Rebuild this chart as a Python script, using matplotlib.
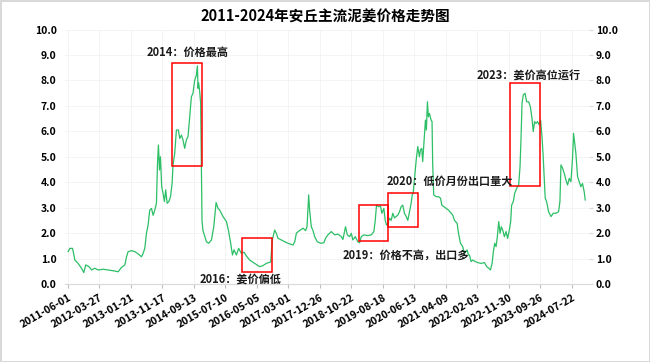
import numpy as np
import pandas as pd
import matplotlib
matplotlib.use("Agg")
import matplotlib.pyplot as plt
import matplotlib.dates as mdates
from matplotlib.patches import Rectangle

plt.rcParams['font.family'] = ['Noto Sans CJK SC', 'DejaVu Sans']

# ---------------------------------------------------------------- data
dates = [
    "2011-06-03", "2011-06-19", "2011-07-15", "2011-08-06", "2011-09-06", "2011-10-08", "2011-10-30",
    "2011-11-18", "2011-12-19",
    "2012-01-12", "2012-02-12", "2012-03-15", "2012-05-02", "2012-06-18", "2012-08-05", "2012-09-21",
    "2012-10-23", "2012-11-24", "2012-12-10", "2012-12-25",
    "2013-01-28", "2013-02-28", "2013-03-31", "2013-05-02", "2013-05-17", "2013-06-02", "2013-06-18",
    "2013-07-03", "2013-07-19", "2013-08-05", "2013-08-20", "2013-09-05", "2013-09-21", "2013-10-01",
    "2013-10-10", "2013-10-20", "2013-10-29", "2013-11-10", "2013-11-23", "2013-12-06", "2013-12-18",
    "2014-01-01", "2014-01-17", "2014-02-02", "2014-02-17", "2014-02-26", "2014-03-14", "2014-03-30",
    "2014-04-18", "2014-05-01", "2014-05-17", "2014-06-01", "2014-06-17", "2014-07-03", "2014-07-19",
    "2014-08-04", "2014-08-20", "2014-09-04", "2014-09-20", "2014-10-06", "2014-10-16", "2014-10-22",
    "2014-10-28", "2014-11-07", "2014-11-16", "2014-11-29", "2014-12-08",
    "2015-01-10", "2015-02-01", "2015-02-27", "2015-03-21", "2015-04-12", "2015-05-01", "2015-05-17",
    "2015-06-17", "2015-07-20", "2015-08-10", "2015-08-29", "2015-09-15", "2015-09-30", "2015-10-23",
    "2015-11-13", "2015-12-09",
    "2016-01-03", "2016-01-26", "2016-02-26", "2016-04-14", "2016-05-31", "2016-07-01", "2016-08-03",
    "2016-09-13", "2016-09-29", "2016-10-21", "2016-11-06", "2016-11-21", "2016-12-23",
    "2017-01-25", "2017-02-25", "2017-04-14", "2017-04-30", "2017-05-16", "2017-06-16", "2017-07-18",
    "2017-08-12", "2017-08-25", "2017-09-10", "2017-09-19", "2017-10-05", "2017-10-21", "2017-11-06",
    "2017-12-01",
    "2018-01-02", "2018-02-02", "2018-02-18", "2018-03-12", "2018-04-14", "2018-05-15", "2018-06-15",
    "2018-07-18", "2018-08-02", "2018-08-27", "2018-09-13", "2018-10-05", "2018-10-21", "2018-11-05",
    "2018-11-28", "2018-12-22",
    "2019-01-08", "2019-01-24", "2019-02-18", "2019-03-28", "2019-04-29", "2019-05-24", "2019-06-06",
    "2019-06-18", "2019-07-07", "2019-07-26", "2019-08-08", "2019-08-27", "2019-09-09", "2019-09-21",
    "2019-10-04", "2019-10-20", "2019-11-05", "2019-11-20", "2019-12-06", "2019-12-22",
    "2020-01-07", "2020-01-23", "2020-02-08", "2020-02-23", "2020-03-10", "2020-03-27", "2020-04-11",
    "2020-04-27", "2020-05-13", "2020-05-23", "2020-06-01", "2020-06-13", "2020-06-30", "2020-07-15",
    "2020-07-31", "2020-08-09", "2020-08-22", "2020-08-31", "2020-09-16", "2020-09-26", "2020-10-05",
    "2020-10-15", "2020-10-24", "2020-11-03", "2020-11-19", "2020-11-28", "2020-12-04", "2020-12-14",
    "2021-01-07", "2021-01-29", "2021-02-17", "2021-03-01", "2021-03-20", "2021-04-12", "2021-05-04",
    "2021-05-29", "2021-06-13", "2021-06-30", "2021-07-25", "2021-08-07", "2021-08-26", "2021-09-16",
    "2021-10-03", "2021-10-28", "2021-11-10", "2021-11-19", "2021-12-05", "2021-12-20",
    "2022-01-15", "2022-02-06", "2022-03-10", "2022-04-11", "2022-05-03", "2022-05-22", "2022-06-07",
    "2022-06-23", "2022-07-05", "2022-07-18", "2022-07-31", "2022-08-12", "2022-08-25", "2022-09-07",
    "2022-09-19", "2022-10-02", "2022-10-18", "2022-11-03", "2022-11-18", "2022-12-04", "2022-12-17",
    "2022-12-26",
    "2023-01-11", "2023-01-24", "2023-02-12", "2023-03-03", "2023-03-16", "2023-03-26", "2023-04-04",
    "2023-04-16", "2023-05-03", "2023-05-18", "2023-06-06", "2023-06-22", "2023-07-08", "2023-07-20",
    "2023-08-02", "2023-08-15", "2023-08-30", "2023-09-15", "2023-09-28", "2023-10-11", "2023-10-21",
    "2023-11-02", "2023-11-11", "2023-11-24", "2023-12-13",
    "2024-01-05", "2024-01-27", "2024-02-21", "2024-03-17", "2024-03-30", "2024-04-09", "2024-04-24",
    "2024-05-10", "2024-05-26", "2024-06-11", "2024-06-27", "2024-07-13", "2024-07-28", "2024-08-07",
    "2024-08-16", "2024-08-29", "2024-09-14", "2024-09-30", "2024-10-16", "2024-10-31", "2024-11-16",
    "2024-11-26",
]
prices = [
    1.27, 1.40, 1.40, 0.94, 0.81, 0.62, 0.45,
    0.75, 0.68,
    0.55, 0.62, 0.55, 0.58, 0.55, 0.52, 0.48,
    0.65, 0.75, 1.07, 1.27,
    1.31, 1.27, 1.18, 1.07, 1.20, 1.40, 2.00,
    2.30, 2.90, 2.97, 2.70, 2.90, 3.17, 4.74,
    5.46, 4.48, 5.00, 3.82, 3.56, 3.24, 3.70,
    3.17, 3.24, 3.43, 3.95, 4.68, 5.13, 6.05,
    6.05, 5.72, 5.85, 5.66, 5.33, 5.66, 5.80,
    6.57, 7.36, 7.49, 8.00, 8.20, 8.57, 7.69,
    7.90, 7.56, 7.10, 2.50, 2.10,
    1.66, 1.60, 1.73, 2.25, 3.20, 2.97, 2.90,
    2.65, 2.45, 2.06, 1.60, 1.14, 1.34, 1.14,
    1.40, 1.20,
    1.25, 1.10, 0.94, 0.81, 0.68, 0.72, 0.81,
    0.87, 1.73, 2.12, 1.99, 1.80, 1.73,
    1.66, 1.60, 1.53, 1.66, 2.00, 2.10, 2.19,
    2.10, 2.25, 3.50, 2.90, 2.25, 2.10, 1.86,
    1.66,
    1.60, 1.62, 1.80, 1.93, 2.06, 1.93, 1.96,
    1.86, 1.75, 2.25, 1.93, 1.86, 1.99, 1.73,
    1.86, 1.66,
    1.62, 1.86, 1.93, 1.90, 1.93, 2.06, 2.50,
    3.10, 3.04, 3.06, 2.78, 2.97, 2.50, 2.32,
    2.38, 2.58, 2.50, 2.78, 2.60, 2.65,
    2.71, 2.84, 3.04, 3.10, 2.78, 2.65, 2.50,
    2.84, 3.17, 3.50, 3.56, 4.09, 4.87, 5.40,
    5.00, 5.27, 5.33, 4.81, 5.79, 6.44, 6.05,
    7.16, 6.57, 6.70, 6.44, 6.38, 4.74, 3.50,
    3.43, 3.43, 3.37, 3.10, 3.04, 2.97, 2.90,
    2.78, 2.71, 2.50, 2.38, 1.99, 1.60, 1.47,
    1.20, 1.34, 1.14, 1.14, 0.88, 0.94,
    0.88, 0.84, 0.81, 0.84, 0.68, 0.62, 0.55,
    0.81, 1.27, 1.60, 1.47, 1.86, 2.45, 1.99,
    2.25, 2.12, 1.86, 2.06, 1.79, 2.12, 2.45,
    3.10,
    3.24, 3.56, 3.76, 3.89, 4.61, 5.79, 7.10,
    7.43, 7.49, 7.16, 7.16, 6.97, 6.51, 5.99,
    6.38, 6.31, 6.38, 6.25, 6.44, 5.79, 5.13,
    4.09, 3.37, 3.24, 2.84,
    2.65, 2.78, 2.78, 2.84, 3.24, 4.68, 4.55,
    4.35, 4.09, 3.89, 4.15, 4.02, 4.94, 5.92,
    5.59, 5.13, 4.22, 4.02, 3.82, 3.95, 3.63,
    3.30,
]

# highlighted periods: start, end, low, high
box_start = ["2014-02-17", "2015-12-17", "2018-12-29", "2019-10-09", "2022-12-10"]
box_end = ["2014-11-29", "2016-09-29", "2019-10-09", "2020-07-21", "2023-09-21"]
box_low = [4.64, 0.48, 1.70, 2.25, 3.85]
box_high = [8.70, 1.82, 3.10, 3.59, 7.89]

notes = ["2014：价格最高", "2016：姜价偏低", "2019：价格不高，出口多",
         "2020：低价月份出口量大", "2023：姜价高位运行"]
note_date = ["2014-07-16", "2015-12-02", "2020-03-20", "2021-05-12", "2023-06-02"]
note_val = [9.12, 0.20, 1.14, 4.05, 8.21]

tick_start = "2011-06-01"

# ---------------------------------------------------------------- plotting
x = pd.to_datetime(dates)

fig = plt.figure(figsize=(6.5, 3.62), dpi=100)
fig.patch.set_edgecolor('#d9d9d9')
fig.patch.set_linewidth(1.0)
ax = fig.add_axes([0.1, 0.2155, 0.806, 0.703])

ax.plot(x, prices, color='#2cbf66', lw=0.9)

for s, e, lo, hi in zip(box_start, box_end, box_low, box_high):
    s, e = mdates.date2num(pd.Timestamp(s)), mdates.date2num(pd.Timestamp(e))
    ax.add_patch(Rectangle((s, lo), e - s, hi - lo, fill=False, edgecolor='#ff0000', lw=1.1, zorder=3))

for t, d, v in zip(notes, note_date, note_val):
    ax.text(pd.Timestamp(d), v, t, ha='center', va='center', fontsize=8, fontweight='bold', color='#1a1a1a')

ticks = pd.date_range(tick_start, periods=17, freq='300D')
ax.set_xticks(ticks)
ax.set_xticklabels([t.strftime('%Y-%m-%d') for t in ticks], rotation=30, ha='right',
                   rotation_mode='anchor', fontsize=7.5, fontweight='bold')
ax.set_xlim(pd.Timestamp("2011-05-04"), pd.Timestamp("2024-12-31"))
ax.set_ylim(0, 10)
yt = np.arange(0, 11, 1)
ax.set_yticks(yt)
ax.set_yticklabels(['%.1f' % v for v in yt], fontsize=7.5, fontweight='bold')

ax.grid(True, color='#f2f2f2', lw=0.6)
ax.set_axisbelow(True)
for side in ['top', 'left', 'right']:
    ax.spines[side].set_visible(False)
ax.spines['bottom'].set_color('#d9d9d9')
ax.tick_params(axis='x', colors='#bfbfbf', labelcolor='black', length=3, pad=3)
ax.tick_params(axis='y', length=0, pad=6, labelcolor='black')

ax2 = ax.twinx()
ax2.set_ylim(0, 10)
ax2.set_yticks(yt)
ax2.set_yticklabels(['%.1f' % v for v in yt], fontsize=7.5, fontweight='bold')
ax2.tick_params(axis='y', length=3, colors='#d9d9d9', labelcolor='black', pad=2)
for side in ['top', 'left', 'right', 'bottom']:
    ax2.spines[side].set_visible(False)

fig.text(0.5, 0.953, "2011-2024年安丘主流泥姜价格走势图", ha='center', va='center',
         fontsize=10.5, fontweight='bold')

fig.savefig("out.png", dpi=100)
